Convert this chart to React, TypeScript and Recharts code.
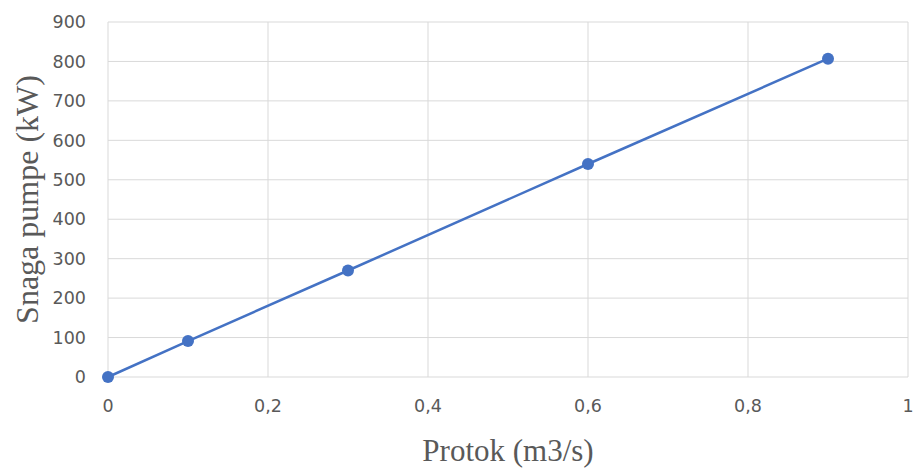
import { LineChart, Line, XAxis, YAxis, CartesianGrid } from "recharts";

const flow = [0, 0.1, 0.3, 0.6, 0.9];
const power = [0, 91, 270, 540, 807];
const xTicks = [0, 0.2, 0.4, 0.6, 0.8, 1];
const yTicks = [0, 100, 200, 300, 400, 500, 600, 700, 800, 900];

const data = flow.map((q, i) => ({ q, p: power[i] }));

const BLUE = "#4472C4";
const GREY = "#595959";
const tickFont = { fontFamily: "'DejaVu Sans', sans-serif", fontSize: 17.5, fill: GREY };
const titleFont = { fontFamily: "'Liberation Serif', 'Times New Roman', serif", fontSize: 31, fill: GREY };

export default function App() {
  return (
    <div style={{ position: "absolute", left: 0, top: 0, background: "#fff" }}>
      <LineChart
        width={915}
        height={468}
        data={data}
        margin={{ top: 22, right: 7, left: 0, bottom: 0 }}
      >
        <CartesianGrid stroke="#d9d9d9" strokeWidth={1} />
        <XAxis
          dataKey="q"
          type="number"
          domain={[0, 1]}
          ticks={xTicks}
          tickFormatter={(v) => String(v).replace(".", ",")}
          axisLine={false}
          tickLine={false}
          tickSize={0}
          tickMargin={23}
          height={91}
          tick={tickFont}
          label={{
            value: "Protok (m3/s)",
            position: "insideBottom",
            offset: 7,
            style: titleFont,
          }}
        />
        <YAxis
          type="number"
          domain={[0, 900]}
          ticks={yTicks}
          axisLine={false}
          tickLine={false}
          tickSize={0}
          tickMargin={22}
          width={108}
          tick={tickFont}
          label={{
            value: "Snaga pumpe (kW)",
            angle: -90,
            position: "insideLeft",
            offset: 27,
            style: { ...titleFont, fontSize: 32, textAnchor: "middle" },
          }}
        />
        <Line
          dataKey="p"
          stroke={BLUE}
          strokeWidth={2.5}
          dot={{ r: 6, fill: BLUE, stroke: BLUE, strokeWidth: 0 }}
          isAnimationActive={false}
        />
      </LineChart>
    </div>
  );
}
